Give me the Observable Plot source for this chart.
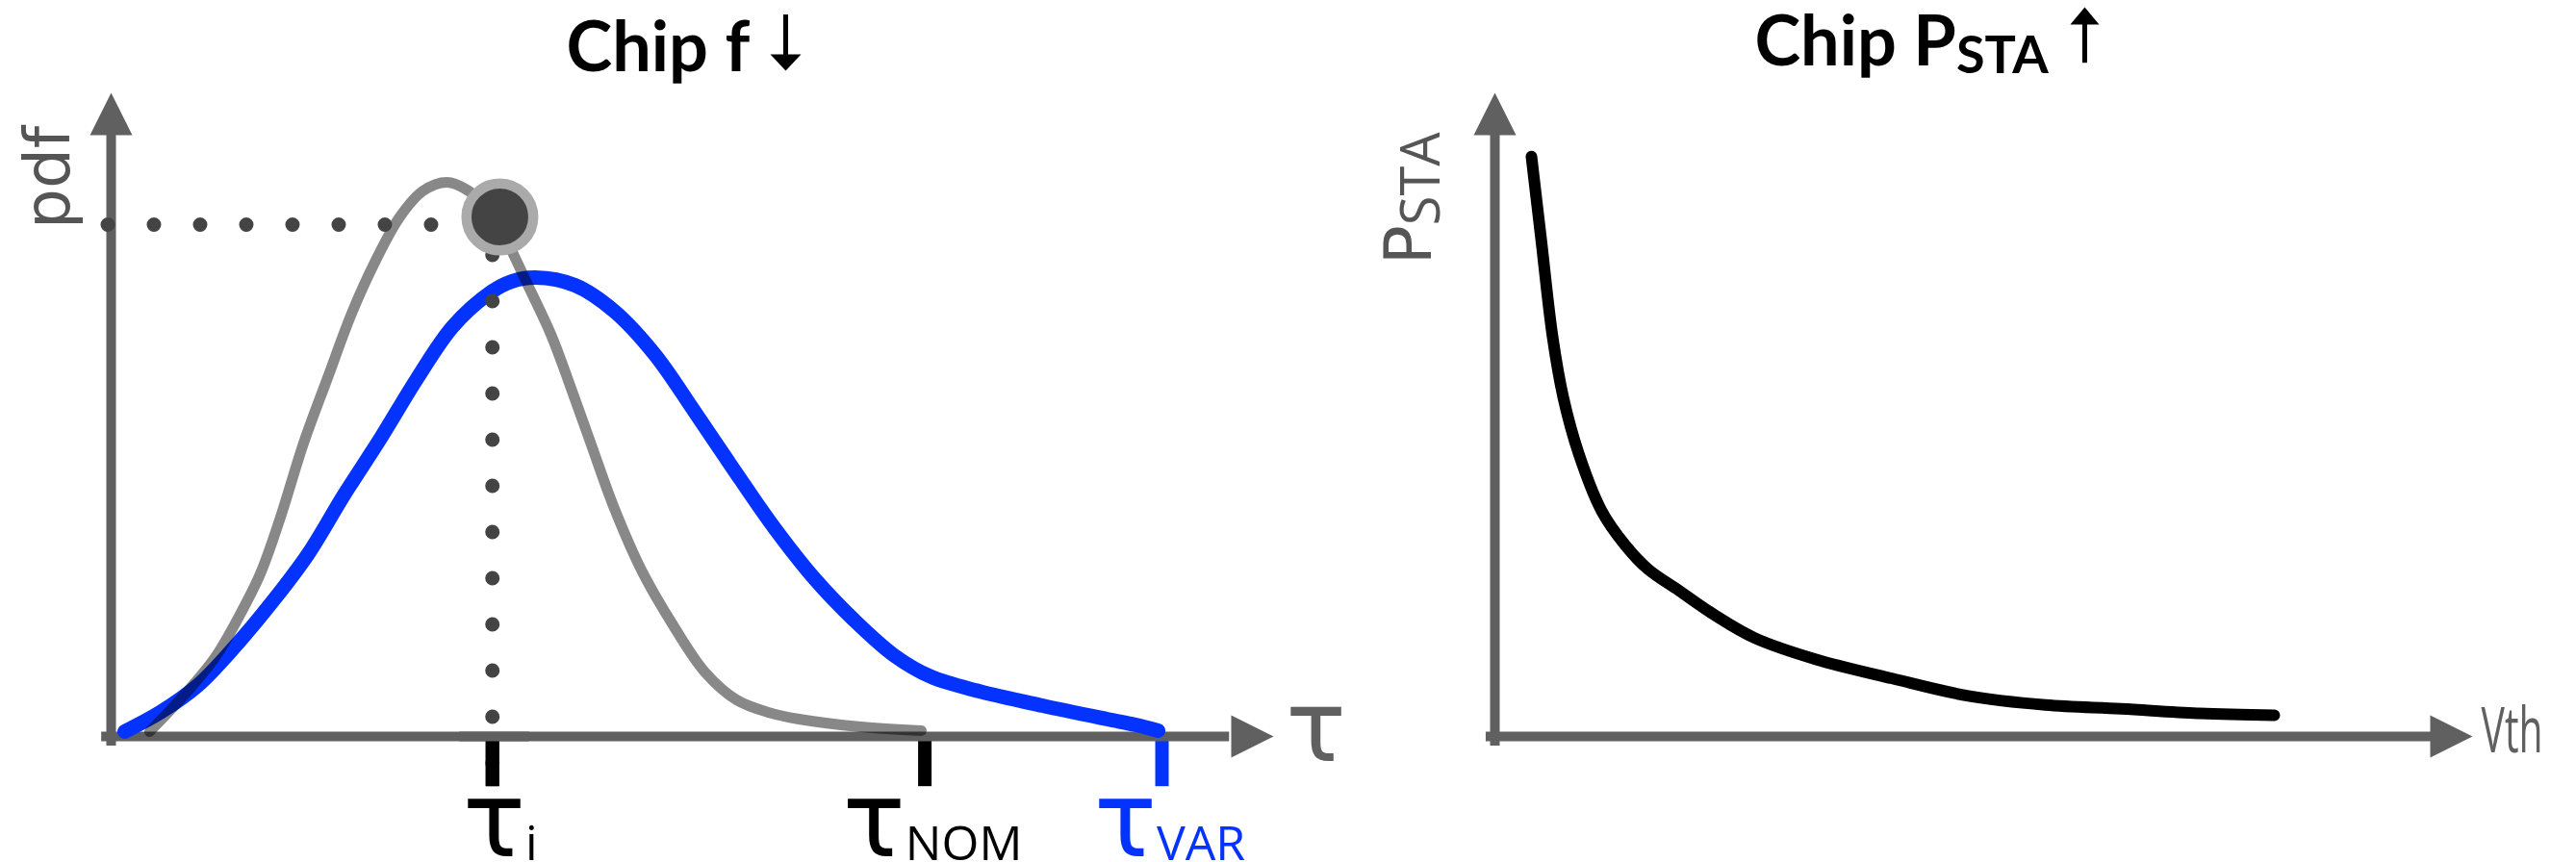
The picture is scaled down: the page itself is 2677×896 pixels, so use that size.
<!DOCTYPE html>
<html><head><meta charset="utf-8">
<script src="https://cdn.jsdelivr.net/npm/d3@7"></script>
<script src="https://cdn.jsdelivr.net/npm/@observablehq/plot@0.6"></script>
<style>
html,body{margin:0;padding:0;background:#fff;}
#row{display:flex;width:2677px;height:896px;overflow:hidden;}
#row svg{display:block;flex:none;}
</style></head><body><div id="row"></div>
<script>
// ---------------- data (arbitrary units: axes run 0..100) ----------------
// left panel: delay distributions (tau vs pdf)
const grayTau = [3.31, 6.29, 8.94, 11.01, 12.83, 14.49, 16.56, 18.63, 20.70, 22.77, 24.83, 26.82, 28.89, 30.63, 32.28, 33.53, 36.01, 37.83, 39.24, 41.31, 43.29, 45.70, 48.43, 51.08, 53.81, 56.54, 59.19, 64.49, 69.70];
const grayPdf = [0.75, 6.43, 12.26, 18.68, 25.26, 33.63, 45.59, 55.75, 65.77, 73.99, 80.72, 84.75, 86.10, 84.90, 82.21, 78.77, 69.51, 62.48, 55.75, 45.29, 35.43, 25.56, 17.04, 10.01, 5.68, 3.74, 2.69, 1.49, 0.90];
const blueTau = [1.16, 4.22, 7.45, 10.76, 14.07, 16.97, 20.03, 23.18, 26.32, 29.39, 32.70, 34.44, 36.51, 39.90, 43.29, 46.77, 50.17, 53.64, 57.04, 60.51, 63.91, 67.38, 70.53, 74.67, 80.13, 85.68, 88.16, 90.07];
const bluePdf = [0.75, 3.74, 7.92, 14.20, 21.38, 28.40, 37.52, 46.34, 55.61, 63.68, 69.06, 70.70, 71.30, 70.10, 66.07, 59.34, 50.52, 41.26, 32.44, 24.51, 18.09, 12.56, 9.27, 7.03, 4.78, 2.69, 1.79, 0.90];
// marked point (tau_i, pdf of chip)
const pointTau = [33.44];
const pointPdf = [80.72];
const guidePdf = [79.52];
// tick positions and labels on the tau axis
const tickTau = [32.8, 70.0, 90.4];
const tickMain = ["τ", "τ", "τ"];
const tickSub = ["i", "NOM", "VAR"];
const tickColor = ["#000000", "#000000", "#0433ff"];
// right panel: P_STA vs Vth
const vth  = [3.74, 4.72, 5.91, 6.99, 8.56, 10.93, 13.29, 15.65, 18.80, 22.64, 26.57, 32.78, 40.65, 48.43, 56.30, 64.07, 71.85, 79.72];
const psta = [90.1, 77.4, 62.0, 52.7, 44.0, 35.0, 29.8, 26.0, 22.7, 18.7, 15.3, 12.0, 9.0, 6.3, 4.9, 4.3, 3.6, 3.3];
// texts
const titleLeft = "Chip f";
const titleRight = "Chip P|STA";
const yLabelLeft = "pdf";
const xLabelLeft = "τ";
const yLabelRight = "P|STA";
const xLabelRight = "Vth";

// ---------------- helpers ----------------
const zip = (a, b) => a.map((v, i) => ({x: v, y: b[i]}));
const gray = zip(grayTau, grayPdf);
const blue = zip(blueTau, bluePdf);
const curveR = zip(vth, psta);
const ticks = tickTau.map((t, i) => ({tau: t, label: tickMain[i] + "|" + tickSub[i], color: tickColor[i]}));

const AX = "#606060";
const tri = (len, half, dir) => ({draw(c) {
  if (dir === "up") { c.moveTo(0, 0); c.lineTo(half, len); c.lineTo(-half, len); }
  else if (dir === "down") { c.moveTo(0, 0); c.lineTo(half, -len); c.lineTo(-half, -len); }
  else { c.moveTo(0, 0); c.lineTo(-len, -half); c.lineTo(-len, half); }
  c.closePath();
}});
const headUp = tri(44, 22, "up");
const headRight = tri(44, 22, "right");

function axesMarks() {
  return [
    Plot.ruleX([0], {y1: -0.75, y2: 93, stroke: AX, strokeWidth: 10, strokeLinecap: "square"}),
    Plot.ruleY([0], {x1: -0.4, x2: 95.8, stroke: AX, strokeWidth: 10, strokeLinecap: "square"}),
    Plot.dot([{x: 0, y: 100}], {x: "x", y: "y", symbol: headUp, fill: AX, stroke: "none"}),
    Plot.dot([{x: 100, y: 0}], {x: "x", y: "y", symbol: headRight, fill: AX, stroke: "none"})
  ];
}

function subscriptify(svg, contents, subSize, subDy, subFont) {
  d3.select(svg).selectAll("text")
    .filter(function () { return contents.includes(this.textContent); })
    .each(function () {
      const el = d3.select(this);
      const parts = el.text().split("|");
      el.text(null);
      el.append("tspan").text(parts[0]);
      el.append("tspan").attr("font-size", subSize).attr("font-family", subFont).attr("dy", subDy).text(parts[1]);
    });
}

// ---------------- left panel ----------------
const left = Plot.plot({
  width: 1400, height: 896,
  marginLeft: 115, marginRight: 77, marginTop: 96, marginBottom: 131,
  x: {domain: [0, 100], axis: null},
  y: {domain: [0, 100], axis: null},
  color: {type: "identity"},
  style: {background: "white"},
  marks: [
    Plot.ruleX(ticks, {x: "tau", y1: 0, y2: -7.8, stroke: "color", strokeWidth: 14}),
    ...axesMarks(),
    Plot.line(blue, {x: "x", y: "y", stroke: "#0433ff", strokeWidth: 15, curve: "catmull-rom", strokeLinecap: "round", strokeLinejoin: "round"}),
    Plot.line(gray, {x: "x", y: "y", stroke: "#888888", strokeWidth: 11, curve: "catmull-rom", strokeLinecap: "round", strokeLinejoin: "round", mixBlendMode: "multiply"}),
    Plot.ruleY(guidePdf, {x1: -0.25, x2: 27.57, stroke: "#444", strokeWidth: 15, strokeDasharray: "0 48", strokeLinecap: "round"}),
    Plot.ruleX([tickTau[0]], {y1: 74.74, y2: -4.19, stroke: "#444", strokeWidth: 15, strokeDasharray: "0 48", strokeLinecap: "round"}),
    Plot.ruleX(ticks.slice(0, 1), {x: "tau", y1: 0, y2: -7.8, stroke: "color", strokeWidth: 14}),
    Plot.ruleY([0], {x1: 30, x2: 36, stroke: AX, strokeWidth: 10}),
    Plot.dot(zip(pointTau, pointPdf), {x: "x", y: "y", r: 34.75, fill: "#444", stroke: "#aaaaaa", strokeWidth: 10.5}),
    Plot.text(ticks, {x: "tau", y: -18.68, text: "label", fill: "color", dx: 8, textAnchor: "middle", lineAnchor: "bottom", fontFamily: "DejaVu Sans", fontSize: 108}),
    Plot.text([yLabelLeft], {x: -3.56, y: 86.85, text: d => d, rotate: -90, textAnchor: "middle", lineAnchor: "bottom", fontFamily: "DejaVu Sans", fontSize: 66, fill: "#555"}),
    Plot.text([xLabelLeft], {x: 103.64, y: -3.74, text: d => d, textAnchor: "middle", lineAnchor: "bottom", fontFamily: "DejaVu Sans", fontSize: 104, fill: AX}),
    Plot.text([titleLeft], {x: 39.16, y: 103.29, text: d => d, textAnchor: "start", lineAnchor: "bottom", fontFamily: "Lato", fontWeight: 700, fontSize: 72, fill: "#000"}),
    // title arrow (down)
    Plot.ruleX([58.03], {y1: 112.1, y2: 105.2, stroke: "#000", strokeWidth: 5}),
    Plot.dot([{x: 58.03, y: 103.44}], {x: "x", y: "y", symbol: tri(17, 16, "down"), fill: "#000", stroke: "none"})
  ]
});
subscriptify(left, ticks.map(d => d.label), 50, 4, "Open Sans");

// ---------------- right panel ----------------
const right = Plot.plot({
  width: 1277, height: 896,
  marginLeft: 153, marginRight: 108, marginTop: 96, marginBottom: 131,
  x: {domain: [0, 100], axis: null},
  y: {domain: [0, 100], axis: null},
  style: {background: "white"},
  marks: [
    ...axesMarks(),
    Plot.line(curveR, {x: "x", y: "y", stroke: "#000", strokeWidth: 12, curve: "catmull-rom", strokeLinecap: "round", strokeLinejoin: "round"}),
    Plot.text([yLabelRight], {x: -6.5, y: 83.6, text: d => d, rotate: -90, textAnchor: "middle", lineAnchor: "bottom", fontFamily: "DejaVu Sans", fontSize: 68, fill: "#555"}),
    Plot.text([xLabelRight], {x: 100.89, y: -2.54, text: d => d, textAnchor: "start", lineAnchor: "bottom", fontFamily: "Open Sans", fontSize: 66, fill: AX}),
    Plot.text([titleRight], {x: 26.57, y: 104.19, text: d => d, textAnchor: "start", lineAnchor: "bottom", fontFamily: "Lato", fontWeight: 700, fontSize: 72, fill: "#000"}),
    // title arrow (up)
    Plot.ruleX([60.33], {y1: 104.6, y2: 111.0, stroke: "#000", strokeWidth: 5}),
    Plot.dot([{x: 60.33, y: 113.3}], {x: "x", y: "y", symbol: tri(18, 15, "up"), fill: "#000", stroke: "none"})
  ]
});
subscriptify(right, [yLabelRight], 56, 9, "Open Sans");
subscriptify(right, [titleRight], 54, 8, "Lato");
d3.select(right).selectAll("text").filter(function () { return this.textContent === xLabelRight; })
  .attr("textLength", 64).attr("lengthAdjust", "spacingAndGlyphs");

document.getElementById("row").append(left, right);
</script></body></html>
